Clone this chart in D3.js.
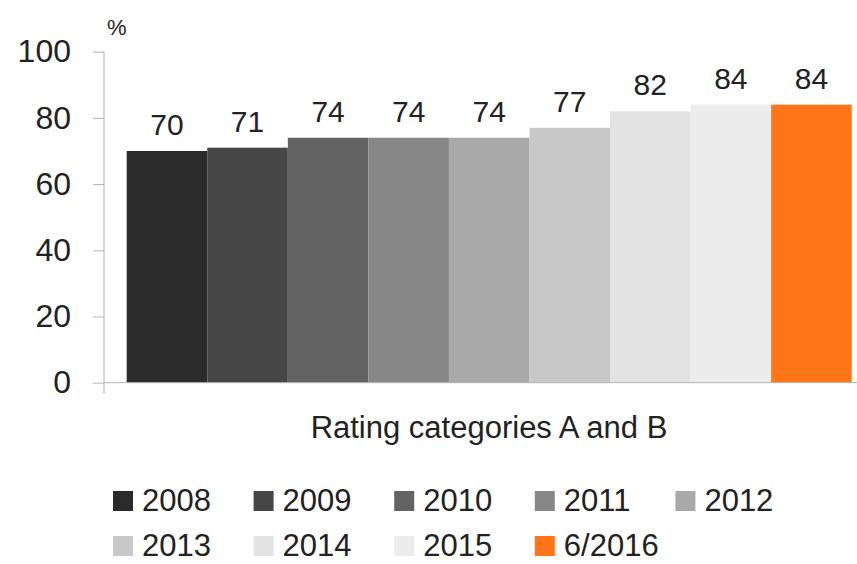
<!DOCTYPE html>
<html><head><meta charset="utf-8">
<script src="https://cdn.jsdelivr.net/npm/d3@7"></script>
<style>body{margin:0;background:#fff}svg{display:block}</style>
</head><body>
<svg id="c" width="857" height="564"></svg>
<script>
const categories = ["2008","2009","2010","2011","2012","2013","2014","2015","6/2016"];
const values = [70,71,74,74,74,77,82,84,84];
const colors = ["#2b2b2b","#464646","#636363","#878787","#a9a9a9","#c8c8c8","#e3e3e3","#ececec","#ff7518"];
const yTicks = [0,20,40,60,80,100];
const axisTitle = "Rating categories A and B";
const unitLabel = "%";

const font = "'Liberation Sans', Arial, sans-serif";
const svg = d3.select("#c");
const y = d3.scaleLinear().domain([0,100]).range([382.7,51.7]);
const x = d3.scaleBand().domain(categories).range([126.7,851.7]).padding(0);
const axisX = 104;

const yAxis = d3.axisLeft(y).tickValues(yTicks).tickSize(11).tickPadding(22);
const g = svg.append("g").attr("transform",`translate(${axisX},0)`).call(yAxis);
g.select(".domain").remove();
g.selectAll(".tick line").attr("stroke","#b3b3b3");
g.selectAll(".tick text").attr("fill","#222").style("font-family",font).style("font-size","32px");

svg.append("line").attr("x1",axisX).attr("x2",axisX).attr("y1",y(100)).attr("y2",y(0)+11)
  .attr("stroke","#b3b3b3");

svg.selectAll("rect.bar").data(categories).enter().append("rect").attr("class","bar")
  .attr("x",d=>x(d)).attr("width",x.bandwidth())
  .attr("y",(d,i)=>y(values[i])).attr("height",(d,i)=>y(0)-y(values[i]))
  .attr("fill",(d,i)=>colors[i]);

svg.append("line").attr("x1",axisX).attr("x2",857).attr("y1",y(0)).attr("y2",y(0))
  .attr("stroke","#b3b3b3");

svg.selectAll("text.val").data(categories).enter().append("text").attr("class","val")
  .attr("x",d=>x(d)+x.bandwidth()/2).attr("y",(d,i)=>y(values[i])-16)
  .attr("text-anchor","middle").attr("fill","#222")
  .style("font-family",font).style("font-size","30px")
  .text((d,i)=>values[i]);

svg.append("text").attr("x",107).attr("y",35).attr("fill","#222")
  .style("font-family",font).style("font-size","22px").text(unitLabel);

svg.append("text").attr("x",489).attr("y",438).attr("text-anchor","middle").attr("fill","#222")
  .style("font-family",font).style("font-size","31px").text(axisTitle);

const lg = svg.selectAll("g.leg").data(categories).enter().append("g").attr("class","leg")
  .attr("transform",(d,i)=>`translate(${113 + (i%5)*140.6},${511 + Math.floor(i/5)*45})`);
lg.append("rect").attr("x",0).attr("y",-20).attr("width",20).attr("height",20)
  .attr("fill",(d,i)=>colors[i]);
lg.append("text").attr("x",29).attr("y",0).attr("fill","#222")
  .style("font-family",font).style("font-size","31px").text(d=>d);
</script>
</body></html>
